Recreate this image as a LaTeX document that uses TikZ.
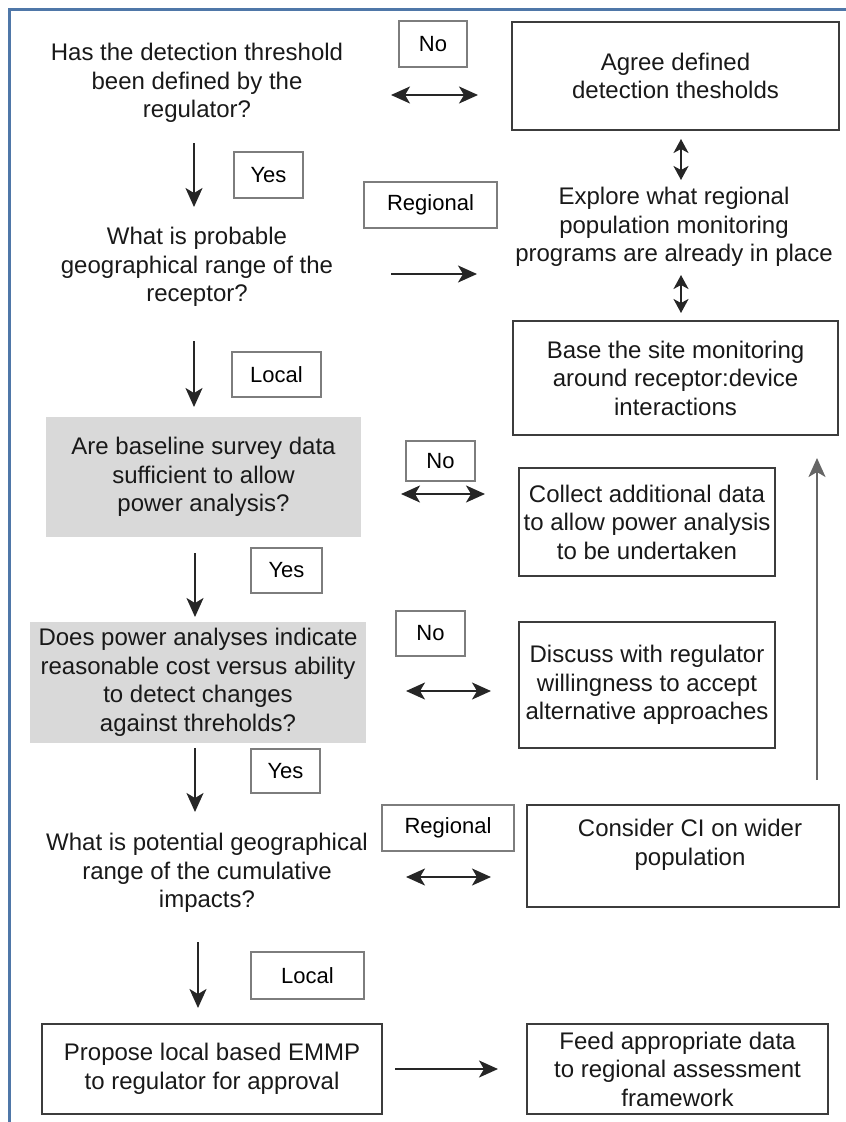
\documentclass[tikz,border=0pt]{standalone}
\usepackage{fontspec}
\setmainfont{Liberation Sans}
\usetikzlibrary{arrows.meta}

\definecolor{frameblue}{RGB}{79,119,168}
\definecolor{boxline}{RGB}{60,60,60}
\definecolor{tagline}{RGB}{125,125,125}
\definecolor{qfill}{RGB}{217,217,217}

\begin{document}
\begin{tikzpicture}[x=1pt, y=-1pt,
	>={Stealth[length=19pt,width=17pt,inset=5pt]},
	txt/.style={align=center, inner sep=0pt, text=black!90, font=\fontsize{24}{28.5}\selectfont},
	box/.style={txt, draw=boxline, line width=2.5pt},
	qbox/.style={txt, fill=qfill},
	tag/.style={draw=tagline, line width=1.5pt, inner sep=0pt, font=\fontsize{22}{26}\selectfont},
	arr/.style={draw=black!85, line width=2.2pt, ->},
	dbl/.style={draw=black!85, line width=2.2pt, <->},
	dblv/.style={dbl, {Stealth[length=14pt,width=15pt,inset=4pt]}-{Stealth[length=14pt,width=15pt,inset=4pt]}}]

	\useasboundingbox (0,0) rectangle (846,1122);
	\draw[frameblue, line width=3pt] (9,1122) -- (9,9) -- (846,9);

	\node[txt] (q1) at (197,83) {Has the detection threshold\\been defined by the\\regulator?};
	\node[tag, minimum width=68, minimum height=46] (no1) at (433,44) {No};
	\node[box, minimum width=327, minimum height=108] (agree) at (675.5,76) {Agree defined\\detection thesholds};

	\node[tag, minimum width=69, minimum height=46] (yes1) at (268.5,175) {Yes};
	\node[tag, minimum width=133, minimum height=46] (reg1) at (430.5,205) {Regional};
	\node[txt] (explore) at (674,227) {Explore what regional\\population monitoring\\programs are already in place};
	\node[txt] (q2) at (197,267) {What is probable\\geographical range of the\\receptor?};

	\node[box, minimum width=325, minimum height=114] (base) at (675.5,378) {Base the site monitoring\\around receptor:device\\interactions};
	\node[tag, minimum width=89, minimum height=45] (local1) at (276.5,374.5) {Local};

	\node[qbox, minimum width=315, minimum height=120] (q3) at (203.5,477) {Are baseline survey data\\sufficient to allow\\power analysis?};
	\node[tag, minimum width=69, minimum height=40] (no2) at (440.5,461) {No};
	\node[box, minimum width=256, minimum height=108] (collect) at (647,522) {Collect additional data\\to allow power analysis\\to be undertaken};
	\node[tag, minimum width=71, minimum height=45] (yes2) at (286.5,570.5) {Yes};

	\node[qbox, minimum width=336, minimum height=121] (q4) at (198,682.5) {Does power analyses indicate\\reasonable cost versus ability\\to detect changes\\against threholds?};
	\node[tag, minimum width=69, minimum height=45] (no3) at (430.5,633.5) {No};
	\node[box, minimum width=256, minimum height=126] (discuss) at (647,685) {Discuss with regulator\\willingness to accept\\alternative approaches};
	\node[tag, minimum width=69, minimum height=44] (yes3) at (285.5,771) {Yes};

	\node[txt] (q5) at (207,873) {What is potential geographical\\range of the cumulative\\impacts?};
	\node[tag, minimum width=132, minimum height=46] (reg2) at (448,828) {Regional};
	\node[box, minimum width=312, minimum height=102] (consider) at (683,856) {};
	\node[txt] (considertxt) at (690,845) {Consider CI on wider\\population};
	\node[tag, minimum width=113, minimum height=47] (local2) at (307.5,975.5) {Local};

	\node[box, minimum width=340, minimum height=90] (propose) at (212,1069) {Propose local based EMMP\\to regulator for approval};
	\node[box, minimum width=301, minimum height=90] (feed) at (677.5,1069) {Feed appropriate data\\to regional assessment\\framework};

	\coordinate (a1) at (391,95);   \coordinate (b1) at (478,95);
	\coordinate (a2) at (681,139);  \coordinate (b2) at (681,180);
	\coordinate (a3) at (194,143);  \coordinate (b3) at (194,207);
	\coordinate (a4) at (391,274);  \coordinate (b4) at (477,274);
	\coordinate (a5) at (681,275);  \coordinate (b5) at (681,313);
	\coordinate (a6) at (194,341);  \coordinate (b6) at (194,407);
	\coordinate (a7) at (401,494);  \coordinate (b7) at (485,494);
	\coordinate (a8) at (195,553);  \coordinate (b8) at (195,617);
	\coordinate (a9) at (406,691);  \coordinate (b9) at (491,691);
	\coordinate (a10) at (195,748); \coordinate (b10) at (195,812);
	\coordinate (a11) at (817,780); \coordinate (b11) at (817,458);
	\coordinate (a12) at (406,877); \coordinate (b12) at (491,877);
	\coordinate (a13) at (198,942); \coordinate (b13) at (198,1008);
	\coordinate (a14) at (395,1069); \coordinate (b14) at (498,1069);

	\foreach \i in {1,7,9,12}
		\draw[dbl] (a\i) -- (b\i);
	\foreach \i in {2,5}
		\draw[dblv] (a\i) -- (b\i);
	\foreach \i in {3,4,6,8,10,13,14}
		\draw[arr] (a\i) -- (b\i);
	\draw[arr, draw=black!60] (a11) -- (b11);
\end{tikzpicture}
\end{document}
